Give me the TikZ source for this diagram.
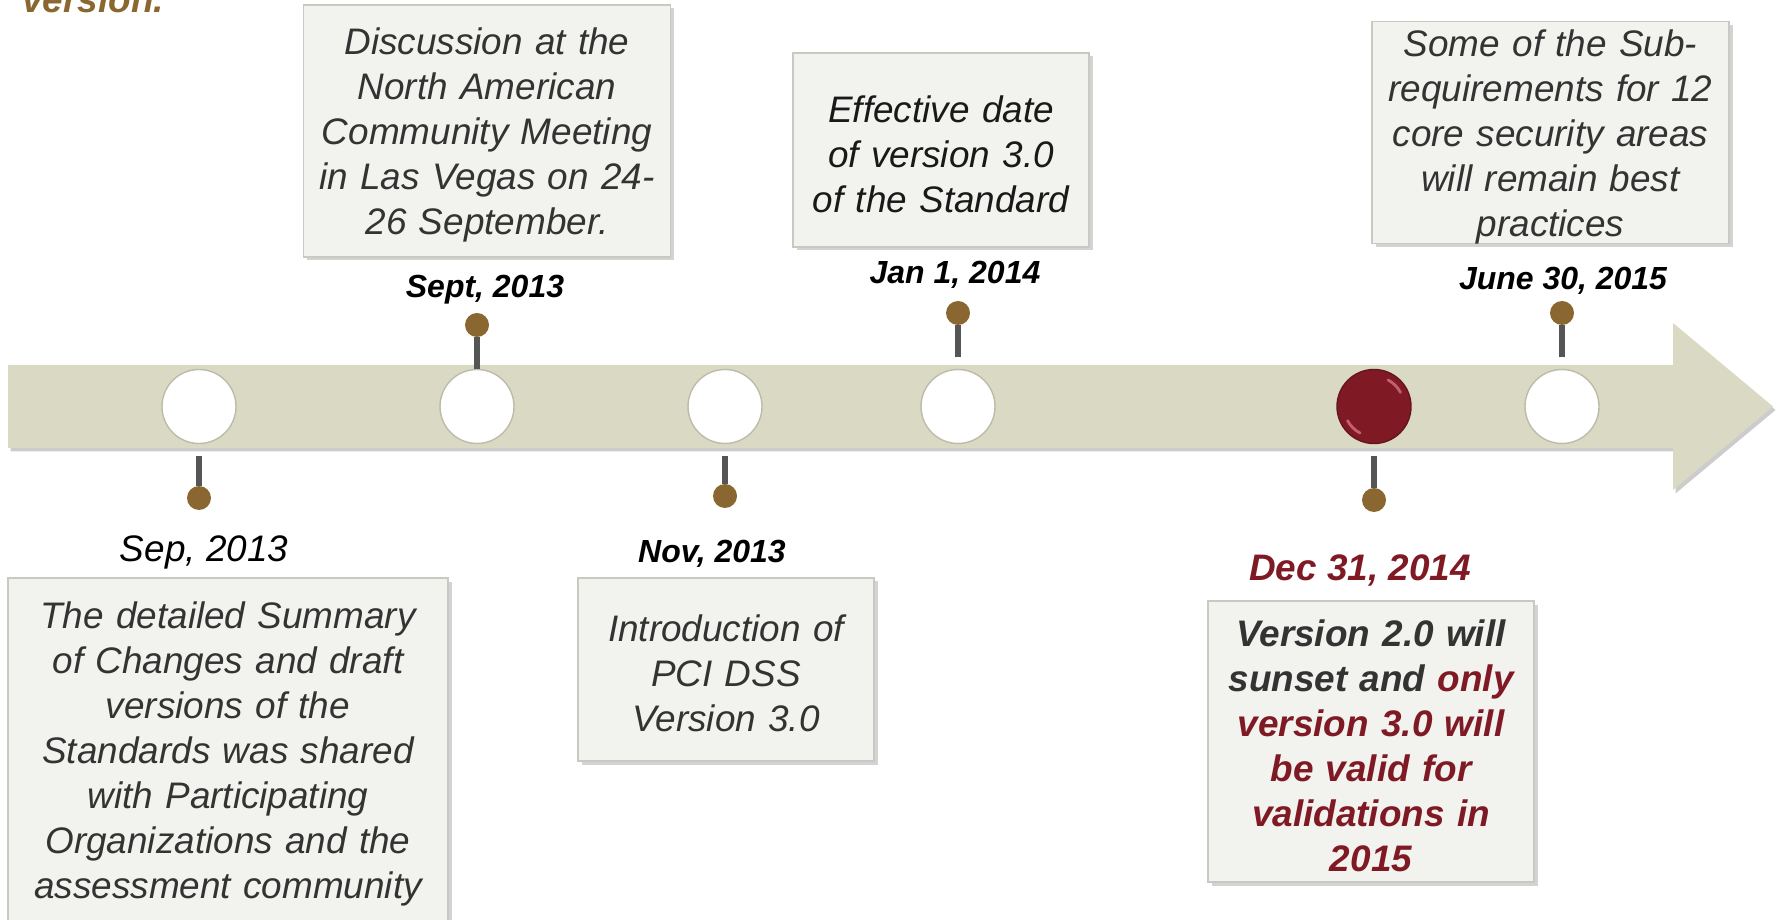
\documentclass[tikz,border=0pt]{standalone}
\usepackage{fontspec}
\setmainfont{Liberation Sans}
\usepackage{tikz}
\usetikzlibrary{shadows}
\usetikzlibrary{positioning}

\definecolor{barcol}{HTML}{DAD9C4}
\definecolor{boxfill}{HTML}{F2F3EE}
\definecolor{boxline}{HTML}{C9C9C1}
\definecolor{txtgray}{HTML}{333333}
\definecolor{pinbrown}{HTML}{8A6630}
\definecolor{stemgray}{HTML}{555555}
\definecolor{darkred}{HTML}{7F1A25}
\definecolor{ringgray}{HTML}{BDBBA9}
\definecolor{glint}{HTML}{D9707E}

\newcommand{\notefont}{\fontsize{21}{25.6}\selectfont\itshape}
\newcommand{\whenfont}{\fontsize{18.2}{22}\selectfont\bfseries\itshape}

\tikzset{
	note/.style={draw=boxline, line width=0.6pt, fill=boxfill, text=txtgray,
		align=center, inner xsep=0.15cm, inner ysep=0pt, font=\notefont,
		execute at begin node={\rule{0pt}{20pt}},
		drop shadow={shadow xshift=0.07cm, shadow yshift=-0.07cm, opacity=0.35}},
	event/.style={circle, draw=ringgray, line width=0.8pt, fill=white,
		minimum size=1.48cm, inner sep=0pt},
	pin/.style={circle, fill=pinbrown, minimum size=0.48cm, inner sep=0pt},
	stem/.style={stemgray, line width=0.11cm, shorten <=0.23cm},
	when/.style={font=\whenfont, text=black, inner sep=0pt},
}

\begin{document}
\begin{tikzpicture}
		\useasboundingbox (0,0) rectangle (35.62,18.38);
		% cut-off heading
		\node[anchor=base west, inner sep=0pt, text=pinbrown,
			font=\fontsize{21}{25.6}\selectfont\bfseries\itshape] (head) at (0.44,18.12) {version.};
		% time arrow
		\fill[barcol, drop shadow={shadow xshift=0.05cm, shadow yshift=-0.07cm, opacity=0.4}]
			(0.16,9.42) -- (33.46,9.42) -- (33.46,8.58) -- (35.46,10.25)
			-- (33.46,11.92) -- (33.46,11.08) -- (0.16,11.08) -- cycle;
		% events on the arrow
		\node[event] (e1) at (3.98,10.25) {};
		\node[event] (e2) at (9.54,10.25) {};
		\node[event] (e3) at (14.50,10.25) {};
		\node[event] (e4) at (19.16,10.25) {};
		\node[event, fill=darkred, draw=darkred!80!black] (e5) at (27.48,10.25) {};
		\node[event] (e6) at (31.24,10.25) {};
		\draw[glint, line width=1.6pt, opacity=0.8, line cap=round]
			([shift={(28:0.6)}]e5.center) arc (28:62:0.6);
		\draw[glint, line width=1.6pt, opacity=0.8, line cap=round]
			([shift={(208:0.6)}]e5.center) arc (208:242:0.6);
		% pins
		\node[pin] (p1) at (3.98,8.42) {};
		\node[pin] (p2) at (9.54,11.88) {};
		\node[pin] (p3) at (14.50,8.46) {};
		\node[pin] (p4) at (19.16,12.12) {};
		\node[pin] (p5) at (27.48,8.38) {};
		\node[pin] (p6) at (31.24,12.12) {};
		\draw[stem] (e1) -- (p1);
		\draw[stem, shorten <=0pt] (e2) -- (p2);
		\draw[stem] (e3) -- (p3);
		\draw[stem] (e4) -- (p4);
		\draw[stem] (e5) -- (p5);
		\draw[stem] (e6) -- (p6);
		% dates
		\node[when, font=\notefont] (d1) at (4.08,7.34) {Sep, 2013};
		\node[when] (d2) at (9.70,12.58) {Sept, 2013};
		\node[when] (d3) at (14.24,7.31) {Nov, 2013};
		\node[when] (d4) at (19.10,12.89) {Jan 1, 2014};
		\node[when, text=darkred, font=\fontsize{21}{25.6}\selectfont\bfseries\itshape] (d5) at (27.20,6.97) {Dec 31, 2014};
		\node[when] (d6) at (31.26,12.76) {June 30, 2015};
		% notes
		\node[note, text width=8.5cm, minimum height=6.86cm] (n1) at (4.56,3.39)
			{The detailed Summary\\ of Changes and draft\\ versions of the\\ Standards was shared\\
			with Participating\\ Organizations and the\\ assessment community};
		\node[note, text width=7.04cm, minimum height=5.04cm] (n2) at (9.74,15.76)
			{Discussion at the\\ North American\\ Community Meeting\\ in Las Vegas on 24-\\ 26 September.};
		\node[note, text width=5.62cm, minimum height=3.88cm, text=black!90] (n3) at (18.82,15.38)
			{Effective date\\ of version 3.0\\ of the Standard};
		\node[note, text width=5.62cm, minimum height=3.66cm] (n4) at (14.52,4.99)
			{Introduction of\\ PCI DSS\\ Version 3.0};
		\node[note, text width=6.22cm, minimum height=5.62cm, text=darkred,
			font=\notefont\bfseries] (n5) at (27.42,3.55)
			{{\color{txtgray}Version 2.0 will}\\ {\color{txtgray}sunset and} only\\ version 3.0 will\\
			be valid for\\ validations in\\ 2015};
		\node[note, text width=6.84cm, minimum height=4.42cm] (n6) at (31.01,15.73)
			{Some of the Sub-\\ requirements for 12\\ core security areas\\ will remain best\\ practices};
	\end{tikzpicture}
\end{document}
